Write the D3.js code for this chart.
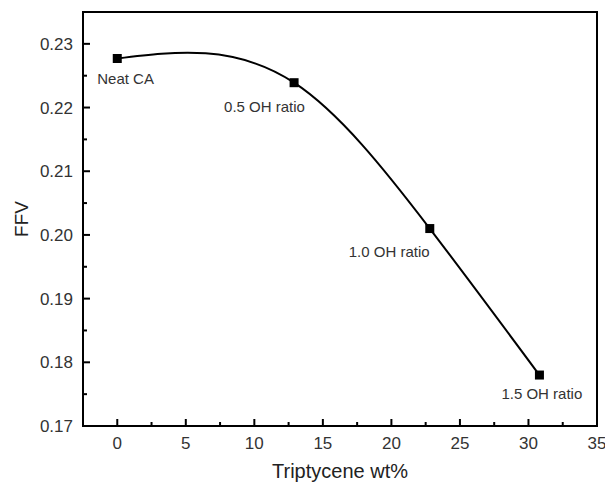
<!DOCTYPE html>
<html>
<head>
<meta charset="utf-8">
<script src="https://cdn.jsdelivr.net/npm/d3@7"></script>
<style>
  html, body { margin: 0; padding: 0; background: #fff; }
  svg { display: block; font-family: "Liberation Sans", Arial, sans-serif; }
</style>
</head>
<body>
<svg id="chart" width="605" height="486"></svg>
<script>
// Fractional free volume versus triptycene loading
const samples = ["Neat CA", "0.5 OH ratio", "1.0 OH ratio", "1.5 OH ratio"];
const wtPercent = [0, 12.9, 22.8, 30.8];
const ffv = [0.2277, 0.2239, 0.2010, 0.1780];

const xTicks = [0, 5, 10, 15, 20, 25, 30, 35];
const yTicks = [0.17, 0.18, 0.19, 0.20, 0.21, 0.22, 0.23];

// label placement relative to each marker (px)
const labelDx = [-20, -70, -81, -38];
const labelDy = [26, 29, 28.5, 24];

// d3 curve: natural cubic spline y(x), each segment emitted as an exact cubic Bézier
function SplineX(context) { this._context = context; }
SplineX.prototype = {
  areaStart() { this._line = 0; },
  areaEnd() { this._line = NaN; },
  lineStart() { this._x = []; this._y = []; },
  point(px, py) { this._x.push(+px); this._y.push(+py); },
  lineEnd() {
    const X = this._x, Y = this._y, n = X.length, c = this._context;
    if (!n) return;
    c.moveTo(X[0], Y[0]);
    if (n < 3) { for (let i = 1; i < n; i++) c.lineTo(X[i], Y[i]); return; }
    const h = [], d = [];
    for (let i = 0; i < n - 1; i++) { h.push(X[i + 1] - X[i]); d.push((Y[i + 1] - Y[i]) / h[i]); }
    // tridiagonal solve for second derivatives (natural ends)
    const M = new Array(n).fill(0);
    const a = [], b = [], cc = [], r = [];
    for (let i = 1; i < n - 1; i++) {
      a.push(h[i - 1]); b.push(2 * (h[i - 1] + h[i])); cc.push(h[i]); r.push(6 * (d[i] - d[i - 1]));
    }
    const m = b.length;
    for (let i = 1; i < m; i++) {
      const w = a[i] / b[i - 1];
      b[i] -= w * cc[i - 1]; r[i] -= w * r[i - 1];
    }
    const sol = new Array(m);
    sol[m - 1] = r[m - 1] / b[m - 1];
    for (let i = m - 2; i >= 0; i--) sol[i] = (r[i] - cc[i] * sol[i + 1]) / b[i];
    for (let i = 0; i < m; i++) M[i + 1] = sol[i];
    for (let i = 0; i < n - 1; i++) {
      const s0 = d[i] - h[i] * (2 * M[i] + M[i + 1]) / 6;
      const s1 = d[i] + h[i] * (M[i] + 2 * M[i + 1]) / 6;
      c.bezierCurveTo(
        X[i] + h[i] / 3, Y[i] + s0 * h[i] / 3,
        X[i + 1] - h[i] / 3, Y[i + 1] - s1 * h[i] / 3,
        X[i + 1], Y[i + 1]);
    }
  }
};
const curveSplineX = ctx => new SplineX(ctx);

const svg = d3.select("#chart");
const margin = { left: 83, right: 8, top: 12, bottom: 60 };
const W = 605, H = 486;

const x = d3.scaleLinear().domain([-2.5, 35]).range([margin.left, W - margin.right]);
const y = d3.scaleLinear().domain([0.17, 0.235]).range([H - margin.bottom, margin.top]);

const textColor = "#333";

// minor ticks at half intervals
const xMinor = d3.range(2.5, 35, 5);
const yMinor = d3.range(0.175, 0.235, 0.01);

const g = svg.append("g");

// frame
g.append("rect")
  .attr("x", x(-2.5)).attr("y", y(0.235))
  .attr("width", x(35) - x(-2.5)).attr("height", y(0.17) - y(0.235))
  .attr("fill", "none").attr("stroke", "#000").attr("stroke-width", 2);

// bottom axis ticks (inward)
g.selectAll(".xmaj").data(xTicks.filter(d => d < 35)).enter().append("line")
  .attr("x1", d => x(d)).attr("x2", d => x(d))
  .attr("y1", y(0.17)).attr("y2", y(0.17) - 7)
  .attr("stroke", "#000").attr("stroke-width", 2);
g.selectAll(".xmin").data(xMinor).enter().append("line")
  .attr("x1", d => x(d)).attr("x2", d => x(d))
  .attr("y1", y(0.17)).attr("y2", y(0.17) - 4)
  .attr("stroke", "#000").attr("stroke-width", 2);
g.selectAll(".xlab").data(xTicks).enter().append("text")
  .attr("x", d => x(d)).attr("y", y(0.17) + 23)
  .attr("text-anchor", "middle").attr("font-size", 17).attr("fill", textColor)
  .text(d => d);

// left axis ticks (inward)
g.selectAll(".ymaj").data(yTicks.filter(d => d > 0.17)).enter().append("line")
  .attr("x1", x(-2.5)).attr("x2", x(-2.5) + 7)
  .attr("y1", d => y(d)).attr("y2", d => y(d))
  .attr("stroke", "#000").attr("stroke-width", 2);
g.selectAll(".ymin").data(yMinor).enter().append("line")
  .attr("x1", x(-2.5)).attr("x2", x(-2.5) + 4)
  .attr("y1", d => y(d)).attr("y2", d => y(d))
  .attr("stroke", "#000").attr("stroke-width", 2);
g.selectAll(".ylab").data(yTicks).enter().append("text")
  .attr("x", x(-2.5) - 10).attr("y", d => y(d) + 6)
  .attr("text-anchor", "end").attr("font-size", 17).attr("fill", textColor)
  .text(d => d.toFixed(2));

// axis titles
g.append("text")
  .attr("x", (x(-2.5) + x(35)) / 2).attr("y", H - 8)
  .attr("text-anchor", "middle").attr("font-size", 20).attr("fill", "#222")
  .text("Triptycene wt%");
g.append("text")
  .attr("transform", `translate(28,${(y(0.17) + y(0.235)) / 2}) rotate(-90)`)
  .attr("text-anchor", "middle").attr("font-size", 19).attr("fill", "#222")
  .text("FFV");

// smooth curve through the points
const pts = wtPercent.map((d, i) => [d, ffv[i]]);
const line = d3.line().x(d => x(d[0])).y(d => y(d[1])).curve(curveSplineX);
g.append("path").datum(pts)
  .attr("d", line).attr("fill", "none")
  .attr("stroke", "#000").attr("stroke-width", 2);

// square markers
const ms = 9;
g.selectAll(".pt").data(pts).enter().append("rect")
  .attr("x", d => x(d[0]) - ms / 2).attr("y", d => y(d[1]) - ms / 2)
  .attr("width", ms).attr("height", ms).attr("fill", "#000");

// point labels
g.selectAll(".plab").data(pts).enter().append("text")
  .attr("x", (d, i) => x(d[0]) + labelDx[i])
  .attr("y", (d, i) => y(d[1]) + labelDy[i])
  .attr("font-size", 15).attr("fill", textColor)
  .text((d, i) => samples[i]);
</script>
</body>
</html>
